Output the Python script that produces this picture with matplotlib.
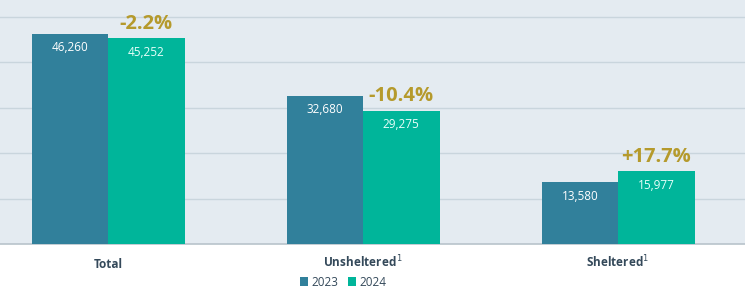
import matplotlib.pyplot as plt
import numpy as np

plt.rcParams['font.family'] = ['Open Sans', 'DejaVu Sans']

categories = ['Total', 'Unsheltered', 'Sheltered']
tick_labels = ['Total', r'Unsheltered$^{\,1}$', r'Sheltered$^{1}$']
values_2023 = [46260, 32680, 13580]
values_2024 = [45252, 29275, 15977]
changes = ['-2.2%', '-10.4%', '+17.7%']

c23 = '#31809b'
c24 = '#00b59a'
gold = '#b59a2c'

fig = plt.figure(figsize=(7.45, 2.96), dpi=100)
ax = fig.add_axes([0, 52 / 296, 1, 244 / 296])
ax.set_facecolor('#e4ebf1')

x = np.arange(len(categories))
w = 0.30
b1 = ax.bar(x - w / 2, values_2023, w, color=c23, label='2023', zorder=3)
b2 = ax.bar(x + w / 2, values_2024, w, color=c24, label='2024', zorder=3)

for rect, v in zip(b1, values_2023):
    ax.text(rect.get_x() + rect.get_width() / 2, v - 1600, f'{v:,}',
            ha='center', va='top', color='white', fontsize=8.5, zorder=4)
for rect, v, c in zip(b2, values_2024, changes):
    ax.text(rect.get_x() + rect.get_width() / 2, v - 1600, f'{v:,}',
            ha='center', va='top', color='#e8fffa', fontsize=8.5, zorder=4)
    ax.text(rect.get_x() + rect.get_width() / 2, v + 1000, c,
            ha='center', va='bottom', color=gold, fontsize=14.5, fontweight='bold', zorder=4)

ax.set_xlim(-0.424, 2.498)
ax.set_ylim(0, 53700)
ax.set_yticks([10000, 20000, 30000, 40000, 50000])
ax.yaxis.grid(True, color='#c9d5dd', linewidth=1, zorder=0)
ax.tick_params(axis='y', left=False, labelleft=False)
ax.tick_params(axis='x', length=0, pad=17)
ax.set_xticks(x)
ax.set_xticklabels(tick_labels, fontsize=8.5, fontweight='bold', color='#34495a',
                   va='baseline')
for s in ['top', 'left', 'right']:
    ax.spines[s].set_visible(False)
ax.spines['bottom'].set_color('#b8c3cb')
ax.spines['bottom'].set_linewidth(1.2)

fig.legend(handles=[b1, b2], labels=['2023', '2024'], loc='center',
           bbox_to_anchor=(343 / 745, 1 - 282 / 296), ncol=2, frameon=False,
           fontsize=8.5, handlelength=0.7, handleheight=0.7, handletextpad=0.3,
           columnspacing=0.8, labelcolor='#34495a')

fig.savefig('out.png', dpi=100)
